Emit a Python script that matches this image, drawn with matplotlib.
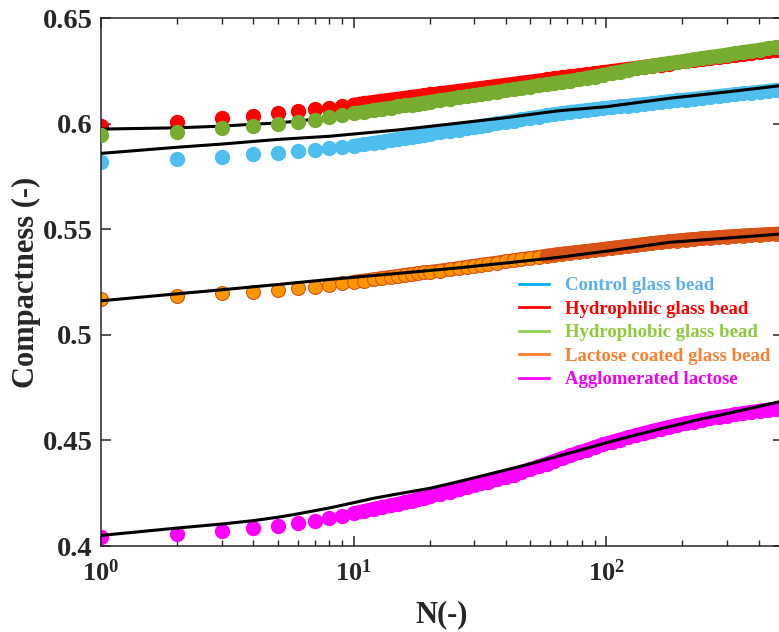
import matplotlib
matplotlib.use('Agg')
import matplotlib.pyplot as plt
from matplotlib.lines import Line2D
from matplotlib.ticker import LogLocator, NullLocator

plt.rcParams['font.family'] = ['Liberation Serif', 'DejaVu Serif']
plt.rcParams['font.weight'] = 'bold'
plt.rcParams['mathtext.fontset'] = 'custom'
plt.rcParams['mathtext.rm'] = 'Liberation Serif:bold'
plt.rcParams['mathtext.it'] = 'Liberation Serif:bold:italic'
plt.rcParams['mathtext.bf'] = 'Liberation Serif:bold'

# tap number N for the measured points
N_pts = [1, 2, 3, 4, 5, 6, 7, 8, 9, 10, 11, 12, 13, 14, 15, 16, 17, 18, 19, 20,
         22, 24, 26, 28, 30, 32, 34, 37, 40, 43, 46, 50, 54, 58, 62, 67, 72, 78,
         84, 90, 97, 105, 113, 122, 131, 141, 152, 164, 177, 191, 206, 222, 239,
         258, 278, 300, 323, 348, 375, 404, 435, 468, 500]

control = [.5820, .5831, .5843, .5855, .5862, .5870, .5875, .5883, .5889, .5895,
           .5902, .5909, .5915, .5921, .5927, .5932, .5937, .5942, .5946, .5951,
           .5958, .5965, .5972, .5978, .5984, .5989, .5994, .6001, .6008, .6014,
           .6020, .6027, .6033, .6039, .6044, .6050, .6055, .6060, .6064, .6068,
           .6072, .6077, .6081, .6085, .6089, .6093, .6097, .6101, .6106, .6110,
           .6114, .6118, .6122, .6127, .6131, .6135, .6139, .6143, .6147, .6151,
           .6155, .6159, .6163]

hydrophilic = [.5989, .6009, .6025, .6038, .6049, .6058, .6067, .6076, .6083, .6090,
               .6097, .6103, .6109, .6114, .6118, .6123, .6127, .6131, .6134, .6138,
               .6144, .6150, .6155, .6160, .6165, .6169, .6173, .6179, .6184, .6189,
               .6194, .6199, .6204, .6209, .6214, .6219, .6224, .6229, .6234, .6239,
               .6244, .6249, .6254, .6259, .6264, .6269, .6274, .6279, .6284, .6290,
               .6295, .6300, .6305, .6310, .6315, .6320, .6325, .6330, .6335, .6340,
               .6345, .6350, .6354]

hydrophobic = [.5946, .5962, .5978, .5989, .5998, .6006, .6018, .6030, .6040, .6049,
               .6056, .6063, .6070, .6075, .6081, .6086, .6090, .6095, .6099, .6103,
               .6111, .6117, .6124, .6129, .6135, .6140, .6145, .6151, .6157, .6163,
               .6168, .6175, .6181, .6186, .6192, .6198, .6203, .6210, .6217, .6223,
               .6231, .6239, .6246, .6254, .6261, .6268, .6275, .6281, .6287, .6292,
               .6298, .6304, .6310, .6316, .6321, .6327, .6333, .6339, .6344, .6350,
               .6356, .6361, .6366]

lactose_coated = [.5168, .5184, .5196, .5204, .5212, .5220, .5228, .5236, .5244, .5251,
                  .5257, .5263, .5269, .5274, .5279, .5284, .5288, .5292, .5295, .5298,
                  .5304, .5310, .5316, .5322, .5327, .5332, .5336, .5342, .5348, .5353,
                  .5358, .5364, .5369, .5374, .5379, .5384, .5388, .5393, .5397, .5401,
                  .5406, .5411, .5416, .5420, .5425, .5429, .5434, .5438, .5442, .5446,
                  .5450, .5453, .5456, .5459, .5462, .5465, .5467, .5470, .5472, .5474,
                  .5476, .5478, .5480]

agglomerated = [.4044, .4056, .4072, .4086, .4096, .4107, .4119, .4131, .4143, .4155,
                .4166, .4176, .4185, .4193, .4200, .4208, .4215, .4222, .4229, .4235,
                .4247, .4258, .4268, .4278, .4287, .4296, .4304, .4316, .4327, .4338,
                .4350, .4364, .4377, .4390, .4402, .4416, .4429, .4443, .4456, .4468,
                .4481, .4493, .4504, .4515, .4525, .4535, .4545, .4555, .4564, .4573,
                .4581, .4589, .4597, .4604, .4611, .4617, .4623, .4629, .4635, .4641,
                .4646, .4651, .4656]

# fitted curves (black lines)
N_fit_control = [1, 2, 3, 5, 8, 15, 25, 40, 65, 100, 178, 300, 500]
fit_control = [.5859, .5888, .5903, .5925, .5940, .5970, .6000, .6028, .6061, .6080, .6120, .6150, .6181]

N_fit_top = [1, 2, 3, 4, 5, 6, 8, 10, 15, 25, 40, 65, 100, 178, 300, 500]
fit_top = [.5974, .5980, .5988, .5997, .6003, .6012, .6028, .6042, .6075, .6115, .6155, .6198, .6236, .6285, .6325, .6364]

N_fit_lactose = [1, 2, 3, 5, 8, 15, 25, 40, 65, 100, 178, 300, 500]
fit_lactose = [.5161, .5194, .5213, .5238, .5262, .5291, .5315, .5340, .5367, .5396, .5438, .5458, .5478]

N_fit_aggl = [1, 2, 3, 4, 5, 6, 7, 8, 10, 12, 15, 20, 25, 30, 40, 50, 60, 80, 100,
              130, 170, 235, 300, 400, 500]
fit_aggl = [.4050, .4085, .4104, .4120, .4136, .4152, .4167, .4180, .4205, .4226,
            .4247, .4273, .4300, .4323, .4360, .4389, .4415, .4456, .4489, .4525,
            .4560, .4600, .4627, .4660, .4687]

labels = ['Control glass bead', 'Hydrophilic glass bead', 'Hydrophobic glass bead',
          'Lactose coated glass bead', 'Agglomerated lactose']
leg_line_colors = ['#00B0F0', '#FF0000', '#92D050', '#FF7F27', '#FF00FF']
leg_text_colors = ['#5DB0EE', '#FF0000', '#8CCB3C', '#FA7F30', '#F000F0']

fig = plt.figure(figsize=(7.79, 6.32), dpi=100)
ax = fig.add_axes([101/779, 86/632, 682/779, 528/632])

ms = 10
# from N=10 on the markers overlap into a solid band
i0 = N_pts.index(10)
i1 = N_pts.index(58)
band = dict(lw=ms, solid_capstyle='round', solid_joinstyle='round')

ax.plot(N_pts[i0:], control[i0:], '-', color='#4DBEEE', zorder=2, **band)
ax.plot(N_pts, control, 'o', ms=ms, color='#4DBEEE', mec='#4DBEEE', zorder=2)
ax.plot(N_fit_control, fit_control, '-', color='k', lw=2.2, zorder=3)

ax.plot(N_pts[i0:], hydrophilic[i0:], '-', color='#FF0000', zorder=2, **band)
ax.plot(N_pts, hydrophilic, 'o', ms=ms, color='#FF0000', mec='#FF0000', zorder=2)
ax.plot(N_fit_top, fit_top, '-', color='k', lw=2.2, zorder=3)
ax.plot(N_pts[i0:], hydrophobic[i0:], '-', color='#77AC30', zorder=4, **band)
ax.plot(N_pts, hydrophobic, 'o', ms=ms, color='#77AC30', mec='#77AC30', zorder=4)

ax.plot(N_pts[i0:], lactose_coated[i0:], '-', color='#D95319', zorder=2, **band)
ax.plot(N_pts, lactose_coated, 'o', ms=ms, color='#FF9600', mec='#D95319', mew=0.8, zorder=2)
ax.plot(N_pts[i1:], lactose_coated[i1:], '-', color='#D95319', zorder=2.5, **band)
ax.plot(N_fit_lactose, fit_lactose, '-', color='k', lw=2.2, zorder=3)

ax.plot(N_pts[i0:], agglomerated[i0:], '-', color='#FF00FF', zorder=2, **band)
ax.plot(N_pts, agglomerated, 'o', ms=ms, color='#FF00FF', mec='#FF00FF', zorder=2)
ax.plot(N_fit_aggl, fit_aggl, '-', color='k', lw=2.2, zorder=3)

ax.set_xscale('log')
ax.set_xlim(1, 500)
ax.set_ylim(0.4, 0.65)
ax.set_yticks([0.4, 0.45, 0.5, 0.55, 0.6, 0.65])
ax.set_yticklabels(['0.4', '0.45', '0.5', '0.55', '0.6', '0.65'])
ax.xaxis.set_minor_locator(LogLocator(base=10, subs=range(2, 10)))
ax.yaxis.set_minor_locator(NullLocator())

ax.tick_params(which='both', direction='in', top=True, right=True, color='#262626')
ax.tick_params(which='major', length=7, width=1.1)
ax.tick_params(which='minor', length=4, width=1.0)
ax.tick_params(axis='y', labelsize=20.5, pad=6, labelcolor='#262626')
ax.tick_params(axis='x', labelsize=19, pad=10, labelcolor='#262626')
for s in ax.spines.values():
    s.set_linewidth(1.1)
    s.set_color('#262626')

ax.set_xlabel('N(-)', fontsize=22, fontweight='bold', color='#262626', labelpad=10)
ax.set_ylabel('Compactness (-)', fontsize=22, fontweight='bold', color='#262626', labelpad=1.5)

handles = [Line2D([], [], color=c, lw=2) for c in leg_line_colors]
leg = ax.legend(handles, labels, loc='upper left', bbox_to_anchor=(519/779, 1 - 277/632),
                bbox_transform=fig.transFigure, frameon=False, fontsize=13.5,
                handlelength=1.6, handletextpad=0.85, labelspacing=0.34,
                borderpad=0, borderaxespad=0)
for t, c in zip(leg.get_texts(), leg_text_colors):
    t.set_color(c)

plt.savefig('out.png', dpi=100)
